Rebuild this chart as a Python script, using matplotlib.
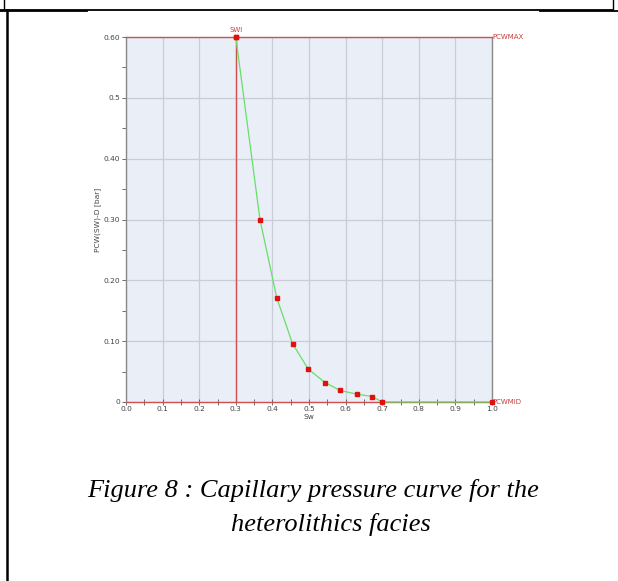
import matplotlib
matplotlib.use("Agg")
import matplotlib.pyplot as plt
from matplotlib.ticker import MultipleLocator, FixedLocator, FixedFormatter

# Capillary pressure curve, heterolithics facies
sw = [0.30, 0.366, 0.412, 0.455, 0.498, 0.544, 0.585, 0.630, 0.673, 0.70, 1.00]
pcw = [0.60, 0.30, 0.171, 0.096, 0.054, 0.032, 0.019, 0.013, 0.009, 0.0, 0.0]

swi = 0.30
pcw_max = 0.60
pcw_mid = 0.0

x_ticks = [0.0, 0.1, 0.2, 0.3, 0.4, 0.5, 0.6, 0.7, 0.8, 0.9, 1.0]
x_tick_labels = ["0.0", "0.1", "0.2", "0.3", "0.4", "0.5", "0.6", "0.7", "0.8", "0.9", "1.0"]
y_ticks = [0.0, 0.1, 0.2, 0.3, 0.4, 0.5, 0.6]
y_tick_labels = ["0", "0.10", "0.20", "0.30", "0.40", "0.5", "0.60"]

caption_lines = ["Figure 8 : Capillary pressure curve for the", "heterolithics facies"]

W, H = 618, 581
fig = plt.figure(figsize=(W / 100, H / 100), dpi=100)

# page table borders
def hline(y, x0, x1, lw):
    fig.add_artist(plt.Line2D([x0 / W, x1 / W], [1 - y / H, 1 - y / H], color="black", lw=lw))

def vline(x, y0, y1, lw):
    fig.add_artist(plt.Line2D([x / W, x / W], [1 - y0 / H, 1 - y1 / H], color="black", lw=lw))

hline(10, 0, 613, 1.3)
hline(11, 0, 87, 1.3)
hline(11, 540, 618, 1.3)
vline(3.5, 0, 10, 1.0)
vline(613, 0, 10, 1.0)
vline(7, 10, 581, 1.8)

ax = fig.add_axes([126 / W, 1 - 402 / H, 366 / W, 365 / H])
ax.set_facecolor("#EAEEF7")
ax.set_xlim(0, 1.0)
ax.set_ylim(0, 0.6)

ax.xaxis.set_major_locator(FixedLocator(x_ticks))
ax.xaxis.set_major_formatter(FixedFormatter(x_tick_labels))
ax.yaxis.set_major_locator(FixedLocator(y_ticks))
ax.yaxis.set_major_formatter(FixedFormatter(y_tick_labels))
ax.xaxis.set_minor_locator(MultipleLocator(0.05))
ax.yaxis.set_minor_locator(MultipleLocator(0.05))

ax.grid(True, which="major", color="#C9CDD8", lw=0.9)
ax.set_axisbelow(True)

tick_font = dict(labelsize=5.4, labelcolor="#444444", colors="#555555")
ax.tick_params(axis="both", which="major", length=3, width=0.6, pad=1, direction="out", **tick_font)
ax.tick_params(axis="both", which="minor", length=3, width=0.6, direction="out", colors="#555555")
ax.tick_params(axis="x", which="both", direction="inout", length=4)

for side in ("left", "right"):
    ax.spines[side].set_color("#8A8A8A")
    ax.spines[side].set_linewidth(1.0)
for side in ("top", "bottom"):
    ax.spines[side].set_color("#D05050")
    ax.spines[side].set_linewidth(1.0)

# SWI vertical limit
ax.axvline(swi, color="#D05050", lw=1.0, zorder=2)

# curve and measured points
ax.plot(sw, pcw, color="#66E066", lw=0.9, zorder=3, clip_on=False)
ax.plot(sw, pcw, linestyle="none", marker="s", ms=2.2, color="#E01010", zorder=4, clip_on=False)
ax.plot([swi], [pcw_max], linestyle="none", marker="s", ms=2.2, color="#E01010", zorder=5, clip_on=False)

red_lbl = dict(fontsize=5.0, color="#C84040")
ax.text(swi, pcw_max + 0.006, "SWI", ha="center", va="bottom", **red_lbl)
ax.text(1.0, pcw_max, "PCWMAX", ha="left", va="center", **red_lbl)
ax.text(1.0, pcw_mid, "PCWMID", ha="left", va="center", **red_lbl)

ax.set_xlabel("Sw", fontsize=5.4, color="#444444", labelpad=1)
ax.set_ylabel("PCW(SW)-D [bar]", fontsize=5.4, color="#444444", labelpad=2)

cap = dict(fontsize=19, family="Liberation Serif", style="italic", ha="center", va="center", color="black")
fig.text(313 / W, 1 - 490 / H, caption_lines[0], **cap)
fig.text(331 / W, 1 - 525 / H, caption_lines[1], **cap)

fig.savefig("out.png", dpi=100)
